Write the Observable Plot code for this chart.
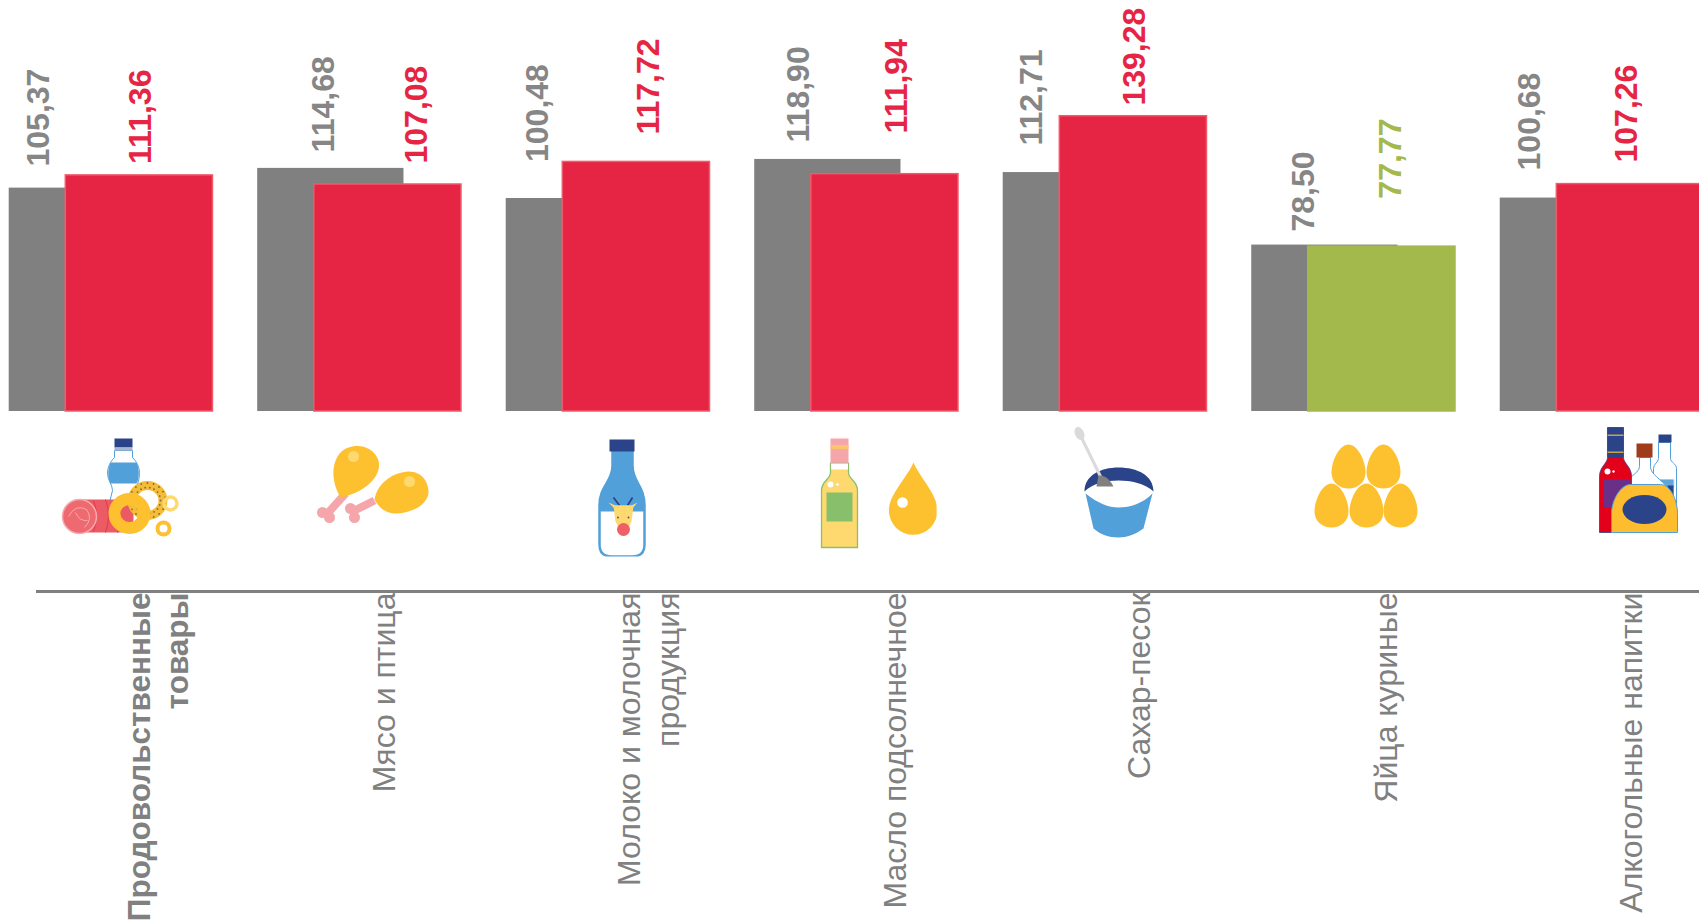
<!DOCTYPE html>
<html lang="ru">
<head>
<meta charset="utf-8">
<script src="https://cdn.jsdelivr.net/npm/d3@7"></script>
<script src="https://cdn.jsdelivr.net/npm/@observablehq/plot@0.6"></script>
<style>
html,body{margin:0;padding:0;background:#fff;overflow:hidden}
svg{display:block}
</style>
</head>
<body>
<div id="chart"></div>
<script>
const categories = ["Продовольственные\nтовары","Мясо и птица","Молоко и молочная\nпродукция","Масло подсолнечное","Сахар-песок","Яйца куриные","Алкогольные напитки"];
const previous = [105.37,114.68,100.48,118.90,112.71,78.50,100.68];
const current  = [111.36,107.08,117.72,111.94,139.28,77.77,107.26];

// Hand-placed label offsets of the original layout, in pixels from each band's centre and each bar's top
const prevNudgeX = [-72.5,-35.5,-70.5,-57.5,-73.5,-49.5,-72.5];
const prevNudgeY = [-21.6,-16,-36.5,-17,-27,-13.6,-27.6];
const currNudgeX = [29.5,57.5,40.5,40.5,29.5,37.5,24.5];
const currNudgeY = [-11.5,-21,-27.4,-40.8,-10.7,-48,-21.6];
const catNudgeX  = [45.5,23,39,37,33,31.5,28];

const fmt = v => v.toFixed(2).replace(".", ",");
const GREY="#808080", RED="#E62545", REDLINE="#EF5B68", GREEN="#A4B94B", LABEL="#868686";
const Y="#FDC130", LY="#FDD96F", BLUE="#52A0D9", NAVY="#2B4489", PINK="#F5A6AB";
const FONT="'Liberation Sans', Arial, sans-serif";

const egg=(cx,t)=>`<path d="M${cx} ${t}C${cx+9} ${t} ${cx+17} ${t+16} ${cx+17} ${t+28}C${cx+17} ${t+38} ${cx+9} ${t+44} ${cx} ${t+44}C${cx-9} ${t+44} ${cx-17} ${t+38} ${cx-17} ${t+28}C${cx-17} ${t+16} ${cx-9} ${t} ${cx} ${t}Z" fill="${Y}"/>`;
const seeds=(()=>{let s="";for(let a=0;a<360;a+=20){const r=a*Math.PI/180;
  s+=`<circle cx="${(147+13*Math.cos(r)).toFixed(1)}" cy="${(500+13*Math.sin(r)).toFixed(1)}" r=".9" fill="#7a6a3a"/>`;
  s+=`<circle cx="${(147+18*Math.cos(r+.17)).toFixed(1)}" cy="${(500+17.5*Math.sin(r+.17)).toFixed(1)}" r=".9" fill="#7a6a3a"/>`;}return s;})();

const iconBodies = [
`<path d="M114 450L132 450L132 457C136 461 139 466 139 473C139 480 136 484 136 490L138 510L107 510L112 490C112 484 107 480 107 473C107 466 110 461 114 457Z" fill="#fff" stroke="${BLUE}" stroke-width="1"/>
 <path d="M110 462L136 462C139 468 139 478 136 483L110 483C107 478 107 468 110 462Z" fill="${BLUE}"/>
 <rect x="114" y="438" width="18" height="9" fill="${NAVY}"/><rect x="114" y="447" width="18" height="3" fill="#aab4d0"/>
 <rect x="64" y="499" width="69" height="33" rx="14" fill="#EC5A63"/>
 <path d="M93 500Q99 515 93 531M105 499Q111 515 105 532M117 499Q123 515 117 532" fill="none" stroke="#E2394B" stroke-width="1"/>
 <circle cx="79" cy="516" r="17" fill="#EE6A70" stroke="#F7A9AE" stroke-width="1.5"/>
 <path d="M68 516Q75 503 86 509Q93 518 84 527M75 512Q79 521 87 520" fill="none" stroke="#F7A9AE" stroke-width="1"/>
 <ellipse cx="147" cy="500" rx="15.5" ry="15" fill="none" stroke="#F5BC3A" stroke-width="9"/>${seeds}
 <ellipse cx="129" cy="513" rx="15" ry="14.5" fill="none" stroke="${Y}" stroke-width="12"/>
 <circle cx="170" cy="503" r="6.5" fill="none" stroke="${LY}" stroke-width="3.5"/>
 <circle cx="163" cy="528" r="6" fill="none" stroke="${Y}" stroke-width="4"/>`,
`<path d="M345 493L327 513M374 500L352 511" stroke="${PINK}" stroke-width="8" fill="none"/>
 <circle cx="322" cy="512" r="5.5" fill="${PINK}"/><circle cx="329" cy="517" r="5.5" fill="${PINK}"/>
 <circle cx="350" cy="508" r="5.5" fill="${PINK}"/><circle cx="354" cy="517" r="5.5" fill="${PINK}"/>
 <path d="M340 497C330 480 331 462 340 452C350 442 372 443 378 460C382 475 365 492 340 497Z" fill="${Y}"/>
 <path d="M374 499C376 485 390 472 408 471C422 471 428 482 428 492C427 505 410 513 395 513C388 513 380 510 374 499Z" fill="${Y}"/>
 <circle cx="353" cy="456" r="5.5" fill="${LY}"/><circle cx="409" cy="481" r="5.5" fill="${LY}"/>`,
`<path d="M612 451L612 465C612 482 599 485 599 505L599 544Q599 556 611 556L632 556Q644 556 644 544L644 505C644 485 632 482 632 465L632 451Z" fill="#fff" stroke="${BLUE}" stroke-width="2.5"/>
 <path d="M612 451L612 465C612 482 599 485 599 505L599 511L644 511L644 505C644 485 632 482 632 465L632 451Z" fill="${BLUE}"/>
 <rect x="609" y="439" width="25" height="12" fill="${NAVY}"/>
 <path d="M613 497L619 505M632 497L627 505" stroke="${NAVY}" stroke-width="1.8" fill="none"/>
 <path d="M608 502L615 505L631 505L637 502L631 509L615 509Z" fill="${LY}"/>
 <path d="M613 505L633 505L631 521L627 529L619 529L615 521Z" fill="${LY}"/>
 <circle cx="617.5" cy="517" r=".9" fill="#555"/><circle cx="628" cy="517" r=".9" fill="#555"/>
 <circle cx="623" cy="529" r="6.5" fill="#EE5F66"/>`,
`<rect x="830" y="438" width="18" height="25" fill="${PINK}"/><rect x="830" y="444.5" width="18" height="4" fill="#FBC56B"/>
 <path d="M830 463L848 463L848 472C848 479 857 480 857 490L857 547L821 547L821 490C821 480 830 479 830 472Z" fill="${LY}" stroke="#8ABF6B" stroke-width="1.3"/>
 <rect x="830.5" y="463" width="17" height="6" fill="#fff"/>
 <rect x="826" y="492" width="26" height="29" fill="#88BF6B"/>
 <circle cx="830" cy="484" r="3" fill="#fff"/><circle cx="837" cy="484" r="1.2" fill="#fff"/>
 <path d="M913 462C920 478 937 494 937 510A24.3 24.3 0 0 1 888.4 510C888.4 494 906 478 913 462Z" fill="${Y}"/>
 <circle cx="902" cy="502" r="5.3" fill="#fff"/>`,
`<path d="M1085 493C1098 503 1108 507 1118 507C1130 507 1142 503 1152 493L1143 528C1135 534 1126 537 1118 537C1108 537 1100 534 1093 528Z" fill="${BLUE}"/>
 <path d="M1084 491C1084 475 1100 467 1118 467C1137 467 1153 475 1153 491C1145 483 1130 480 1118 480C1105 480 1092 483 1084 491Z" fill="${NAVY}"/>
 <path d="M1079 433L1100 476" stroke="#DADADA" stroke-width="3" fill="none"/><ellipse cx="1079" cy="433" rx="4.5" ry="7" transform="rotate(-25 1079 433)" fill="#DADADA"/>
 <path d="M1098 475C1105 474 1110 480 1113 486L1096 486Z" fill="${GREY}"/>`,
egg(1348,444)+egg(1383,444)+egg(1331,483)+egg(1366,483)+egg(1400,483),
`<path d="M1658 442L1658 458C1658 462 1653 463 1653 468L1653 510L1676 510L1676 468C1676 463 1670 462 1670 458L1670 442Z" fill="#fff" stroke="${BLUE}" stroke-width="1"/>
 <rect x="1656" y="479" width="18" height="8" fill="#ddd"/><rect x="1656" y="479" width="17" height="18" fill="${BLUE}" opacity=".9"/><rect x="1667" y="485" width="6" height="10" fill="${NAVY}"/>
 <rect x="1658" y="434" width="13" height="8" fill="${NAVY}"/>
 <path d="M1639 457L1639 466C1639 474 1622 478 1622 490L1622 520L1668 520L1668 488C1660 478 1650 474 1650 466L1650 457Z" fill="#fff" stroke="${BLUE}" stroke-width="1"/>
 <rect x="1636" y="443" width="16" height="14" fill="#A03C1A"/>
 <path d="M1607 427L1623 427L1623 457C1623 463 1631 466 1631 476L1631 532L1599 532L1599 476C1599 466 1607 463 1607 457Z" fill="#E2001A" stroke="${NAVY}" stroke-width=".8"/>
 <rect x="1607" y="427" width="16" height="30" fill="${NAVY}"/><rect x="1607" y="434" width="16" height="1.5" fill="#C8A24A"/><rect x="1607" y="451" width="16" height="1.5" fill="#C8A24A"/>
 <circle cx="1607" cy="471" r="3" fill="#fff"/><circle cx="1613" cy="471" r="1.2" fill="#fff"/>
 <rect x="1603" y="479" width="27" height="28" fill="#6A3088"/>
 <path d="M1611 532L1611 513C1611 500 1620 484 1630 484L1660 484C1670 484 1677 500 1677 513L1677 532Z" fill="#FDBD2F" stroke="${BLUE}" stroke-width="1"/>
 <ellipse cx="1644" cy="509" rx="22" ry="14.5" fill="${NAVY}"/>`
];

const iconBoxW=160, iconBoxH=140, iconTop=416;
const xStart=8.7, xEnd=1703.5, padInner=0.18;
const step=(xEnd-xStart)/(categories.length-padInner), band=step*(1-padInner);
const bandCentre = i => xStart + step*i + band/2;
const iconSrc = iconBodies.map((b,i)=>"data:image/svg+xml;charset=utf-8,"+encodeURIComponent(
  `<svg xmlns="http://www.w3.org/2000/svg" width="${iconBoxW}" height="${iconBoxH}" viewBox="${bandCentre(i)-iconBoxW/2} ${iconTop} ${iconBoxW} ${iconBoxH}">${b}</svg>`));

const rows = categories.map((c,i)=>({c,prev:previous[i],curr:current[i],i,src:iconSrc[i]}));
const currFill = d => d.curr < 100 ? GREEN : RED;
const VALUE_SIZE=32, CAT_SIZE=32, CAT_BOLD_SIZE=31.5;

const chart = Plot.plot({
  width:1699,height:924,
  marginLeft:36,marginRight:0,marginTop:0,marginBottom:0,
  style:{background:"#fff",fontFamily:FONT},
  x:{type:"band",domain:categories,range:[xStart,xEnd],paddingInner:padInner,paddingOuter:0,round:false,axis:null},
  y:{type:"linear",domain:[0,411/2.12],range:[411,0],axis:null},
  marks:[
    Plot.barY(rows,{x:"c",y:"prev",fill:GREY,insetRight:57.5}),
    Plot.barY(rows,{x:"c",y:"curr",fill:currFill,stroke:d=>d.curr<100?GREEN:REDLINE,strokeWidth:1.5,insetLeft:56.6}),
    ...rows.map(d=>Plot.text([d],{x:"c",y:"prev",text:()=>fmt(d.prev),rotate:-90,textAnchor:"start",lineAnchor:"middle",dx:prevNudgeX[d.i],dy:prevNudgeY[d.i],fill:LABEL,fontSize:VALUE_SIZE,fontWeight:"bold",fontFamily:FONT})),
    ...rows.map(d=>Plot.text([d],{x:"c",y:"curr",text:()=>fmt(d.curr),rotate:-90,textAnchor:"start",lineAnchor:"middle",dx:currNudgeX[d.i],dy:currNudgeY[d.i],fill:currFill(d),fontSize:VALUE_SIZE,fontWeight:"bold",fontFamily:FONT})),
    Plot.image(rows,{x:"c",y:()=>0,src:"src",width:iconBoxW,height:iconBoxH,dy:75}),
    Plot.ruleY([0],{dy:180,stroke:GREY,strokeWidth:3}),
    ...rows.map(d=>Plot.text([d],{x:"c",y:()=>0,text:"c",rotate:-90,textAnchor:"end",lineAnchor:"middle",lineHeight:1.2,dx:catNudgeX[d.i],dy:181,fill:GREY,fontSize:d.i===0?CAT_BOLD_SIZE:CAT_SIZE,fontWeight:d.i===0?"bold":"normal",fontFamily:FONT}))
  ]
});
document.getElementById("chart").append(chart);
</script>
</body>
</html>
